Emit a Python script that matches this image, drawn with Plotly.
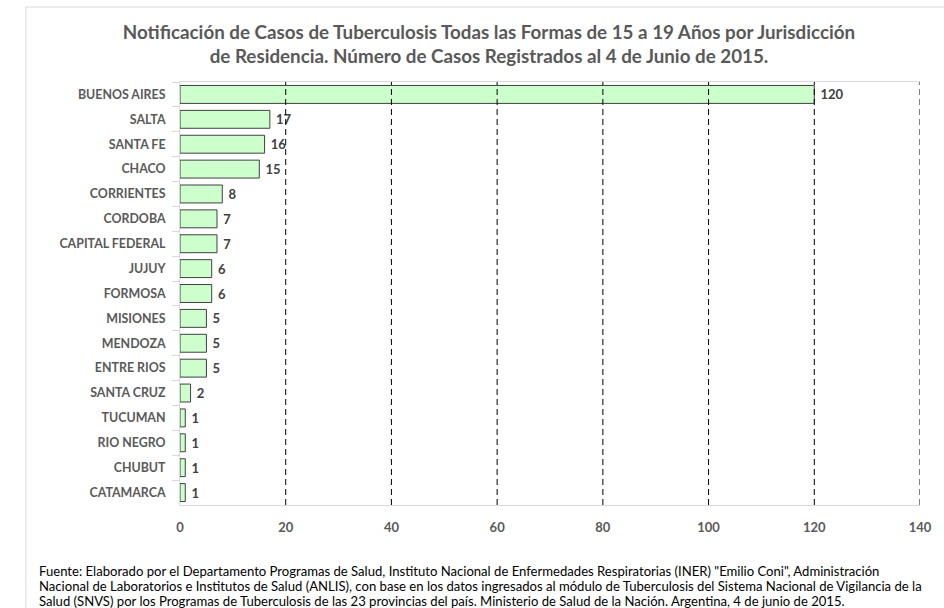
import plotly.graph_objects as go

jurisdicciones = ["BUENOS AIRES", "SALTA", "SANTA FE", "CHACO", "CORRIENTES", "CORDOBA",
                  "CAPITAL FEDERAL", "JUJUY", "FORMOSA", "MISIONES", "MENDOZA", "ENTRE RIOS",
                  "SANTA CRUZ", "TUCUMAN", "RIO NEGRO", "CHUBUT", "CATAMARCA"]
casos = [120, 17, 16, 15, 8, 7, 7, 6, 6, 5, 5, 5, 2, 1, 1, 1, 1]
x_ticks = [0, 20, 40, 60, 80, 100, 120, 140]

titulo = ("Notificación de Casos de Tuberculosis Todas las Formas de 15 a 19 Años por Jurisdicción<br>"
          "de Residencia. Número de Casos Registrados al 4 de Junio de 2015.")
fuente_lineas = [
    "Fuente: Elaborado por el Departamento Programas de Salud, Instituto Nacional de Enfermedades Respiratorias (INER) \"Emilio Coni\", Administración",
    "Nacional de Laboratorios e Institutos de Salud (ANLIS), con base en los datos ingresados al módulo de Tuberculosis del Sistema Nacional de Vigilancia de la",
    "Salud (SNVS) por los Programas de Tuberculosis de las 23 provincias del país. Ministerio de Salud de la Nación. Argentina, 4 de junio de 2015.",
]

FONT = "Lato, 'Open Sans', sans-serif"

fig = go.Figure(go.Bar(
    x=casos, y=jurisdicciones, orientation="h",
    marker=dict(color="#ccffcc", line=dict(color="#404040", width=1)),
    text=casos, texttemplate=" %{x}", textposition="outside", cliponaxis=False,
    textfont=dict(family=FONT, size=13, color="#404040", weight="bold"),
))

shapes = [dict(type="line", xref="x", yref="paper", x0=v, x1=v, y0=0, y1=1,
               line=dict(color="black", width=1, dash="6px,4px"), layer="above")
          for v in x_ticks[1:]]
shapes.append(dict(type="rect", xref="paper", yref="paper",
                   x0=-0.2083, x1=1.2, y0=-0.6, y1=1.1773,
                   line=dict(color="#d9d9d9", width=1), fillcolor="rgba(0,0,0,0)"))

PLOT_TOP, PLOT_BOTTOM = 82, 505
def paper_y(px):
    return (PLOT_BOTTOM - px) / (PLOT_BOTTOM - PLOT_TOP)

annotations = [dict(text=t, xref="paper", yref="paper", x=-0.1935, y=paper_y(py),
                    xanchor="left", yanchor="middle", align="left", showarrow=False,
                    font=dict(family=FONT, size=13.1, color="black"))
               for t, py in zip(fuente_lineas, [571, 586, 601])]

fig.update_layout(
    width=944, height=608,
    margin=dict(l=180, r=20, t=PLOT_TOP, b=608 - PLOT_BOTTOM),
    paper_bgcolor="white", plot_bgcolor="white",
    bargap=0.28,
    showlegend=False,
    font=dict(family=FONT, color="#595959"),
    title=dict(text=titulo, x=0.518, xanchor="center", xref="container",
               y=1 - 39 / 608, yanchor="middle", yref="container",
               font=dict(family=FONT, size=18.8, color="#595959", weight="bold")),
    xaxis=dict(range=[0, 140], tickvals=x_ticks, showgrid=False, zeroline=False,
               showline=True, linecolor="#d9d9d9", linewidth=1, mirror=True,
               ticks="", ticklabelstandoff=10,
               tickfont=dict(family=FONT, size=13, color="#595959", weight="bold")),
    yaxis=dict(autorange="reversed", showgrid=False, zeroline=False,
               showline=True, linecolor="#d9d9d9", linewidth=1,
               ticks="outside", tickson="boundaries", ticklen=7, tickcolor="#d9d9d9",
               ticklabelstandoff=11,
               tickfont=dict(family=FONT, size=12.4, color="#595959", weight="bold")),
    shapes=shapes,
    annotations=annotations,
)

fig.write_html("out.html", config={"displayModeBar": False},
               post_script="document.body.style.margin='0px';document.body.style.overflow='hidden';")
